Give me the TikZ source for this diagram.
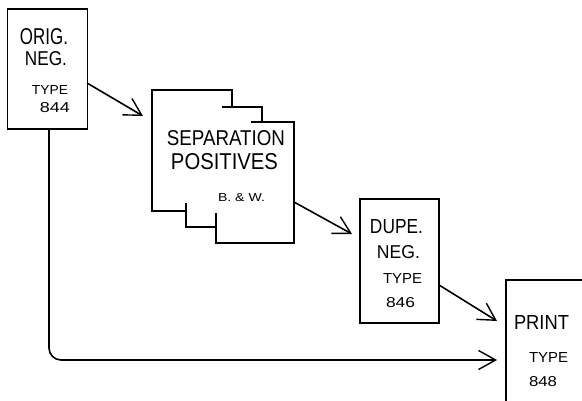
\documentclass[tikz,border=0pt]{standalone}
\usepackage{fontspec}
\setmainfont{Liberation Sans}
\usepackage{graphicx}
\usetikzlibrary{arrows.meta}
\newcommand{\fitt}[3]{\resizebox{#1pt}{#2pt}{#3}}
\begin{document}
\begin{tikzpicture}[x=1pt,y=-1pt,line width=1.6pt,
  box/.style={draw,rectangle,inner sep=0pt,fill=none},
  txt/.style={inner sep=0pt,anchor=center},
  arr/.style={-{Straight Barb[length=17pt,width=19pt,line width=1.4pt]}}]
\useasboundingbox (0,0) rectangle (582,401);
% ORIG. NEG.
\node[box,minimum width=80pt,minimum height=120pt] (orig) at (47.5,69) {};
\node[txt] (o1) at (44,37) {\fitt{48}{16}{ORIG.}};
\node[txt] (o2) at (46,59) {\fitt{42}{14}{NEG.}};
\node[txt] (o3) at (50,90.5) {\fitt{36}{9}{TYPE}};
\node[txt] (o4) at (55,108) {\fitt{30}{10}{844}};
% SEPARATION POSITIVES (stacked sheets outline)
\draw (152,90) -- (232,90) -- (232,107) -- (262,107) -- (262,122) -- (294,122)
  -- (294,243) -- (216,243) -- (216,227) -- (186,227) -- (186,211) -- (152,211) -- cycle;
\draw (232,107) -- (222,107);
\draw (262,122) -- (251,122);
\draw (186,211) -- (186,203);
\draw (216,227) -- (216,213);
\node[txt] (sep) at (226,138.5) {\fitt{118}{15}{SEPARATION}};
\node[txt] (sep2) at (224.5,162) {\fitt{107}{16}{POSITIVES}};
\node[txt] (bw) at (241.5,198) {\fitt{47}{8}{B. \& W.}};
% DUPE. NEG.
\node[box,minimum width=79pt,minimum height=124pt] (dupe) at (399.5,261) {};
\node[txt] (d1) at (396.5,227) {\fitt{53}{14}{DUPE.}};
\node[txt] (d2) at (398.5,252) {\fitt{43}{13}{NEG.}};
\node[txt] (d3) at (402.5,279) {\fitt{39}{10}{TYPE}};
\node[txt] (d4) at (400.5,303) {\fitt{29}{10}{846}};
% PRINT (cropped box)
\coordinate (print) at (506,280);
\draw (582,280) -- (print) -- (506,401);
\node[txt] (p1) at (541.5,322) {\fitt{55}{14}{PRINT}};
\node[txt] (p2) at (548.5,358) {\fitt{39}{10}{TYPE}};
\node[txt] (p3) at (543,382) {\fitt{28}{10}{848}};
% connectors
\coordinate (s1) at (87,83);   \coordinate (e1) at (143,116);
\coordinate (s2) at (294,202); \coordinate (e2) at (352,234);
\coordinate (s3) at (439,285); \coordinate (e3) at (497,321);
\coordinate (e4) at (497,360);
\draw[arr] (s1) -- (e1);
\draw[arr] (s2) -- (e2);
\draw[arr] (s3) -- (e3);
\draw[arr,rounded corners=12pt] ([xshift=1.5pt]orig.south) |- (e4);
\end{tikzpicture}
\end{document}
